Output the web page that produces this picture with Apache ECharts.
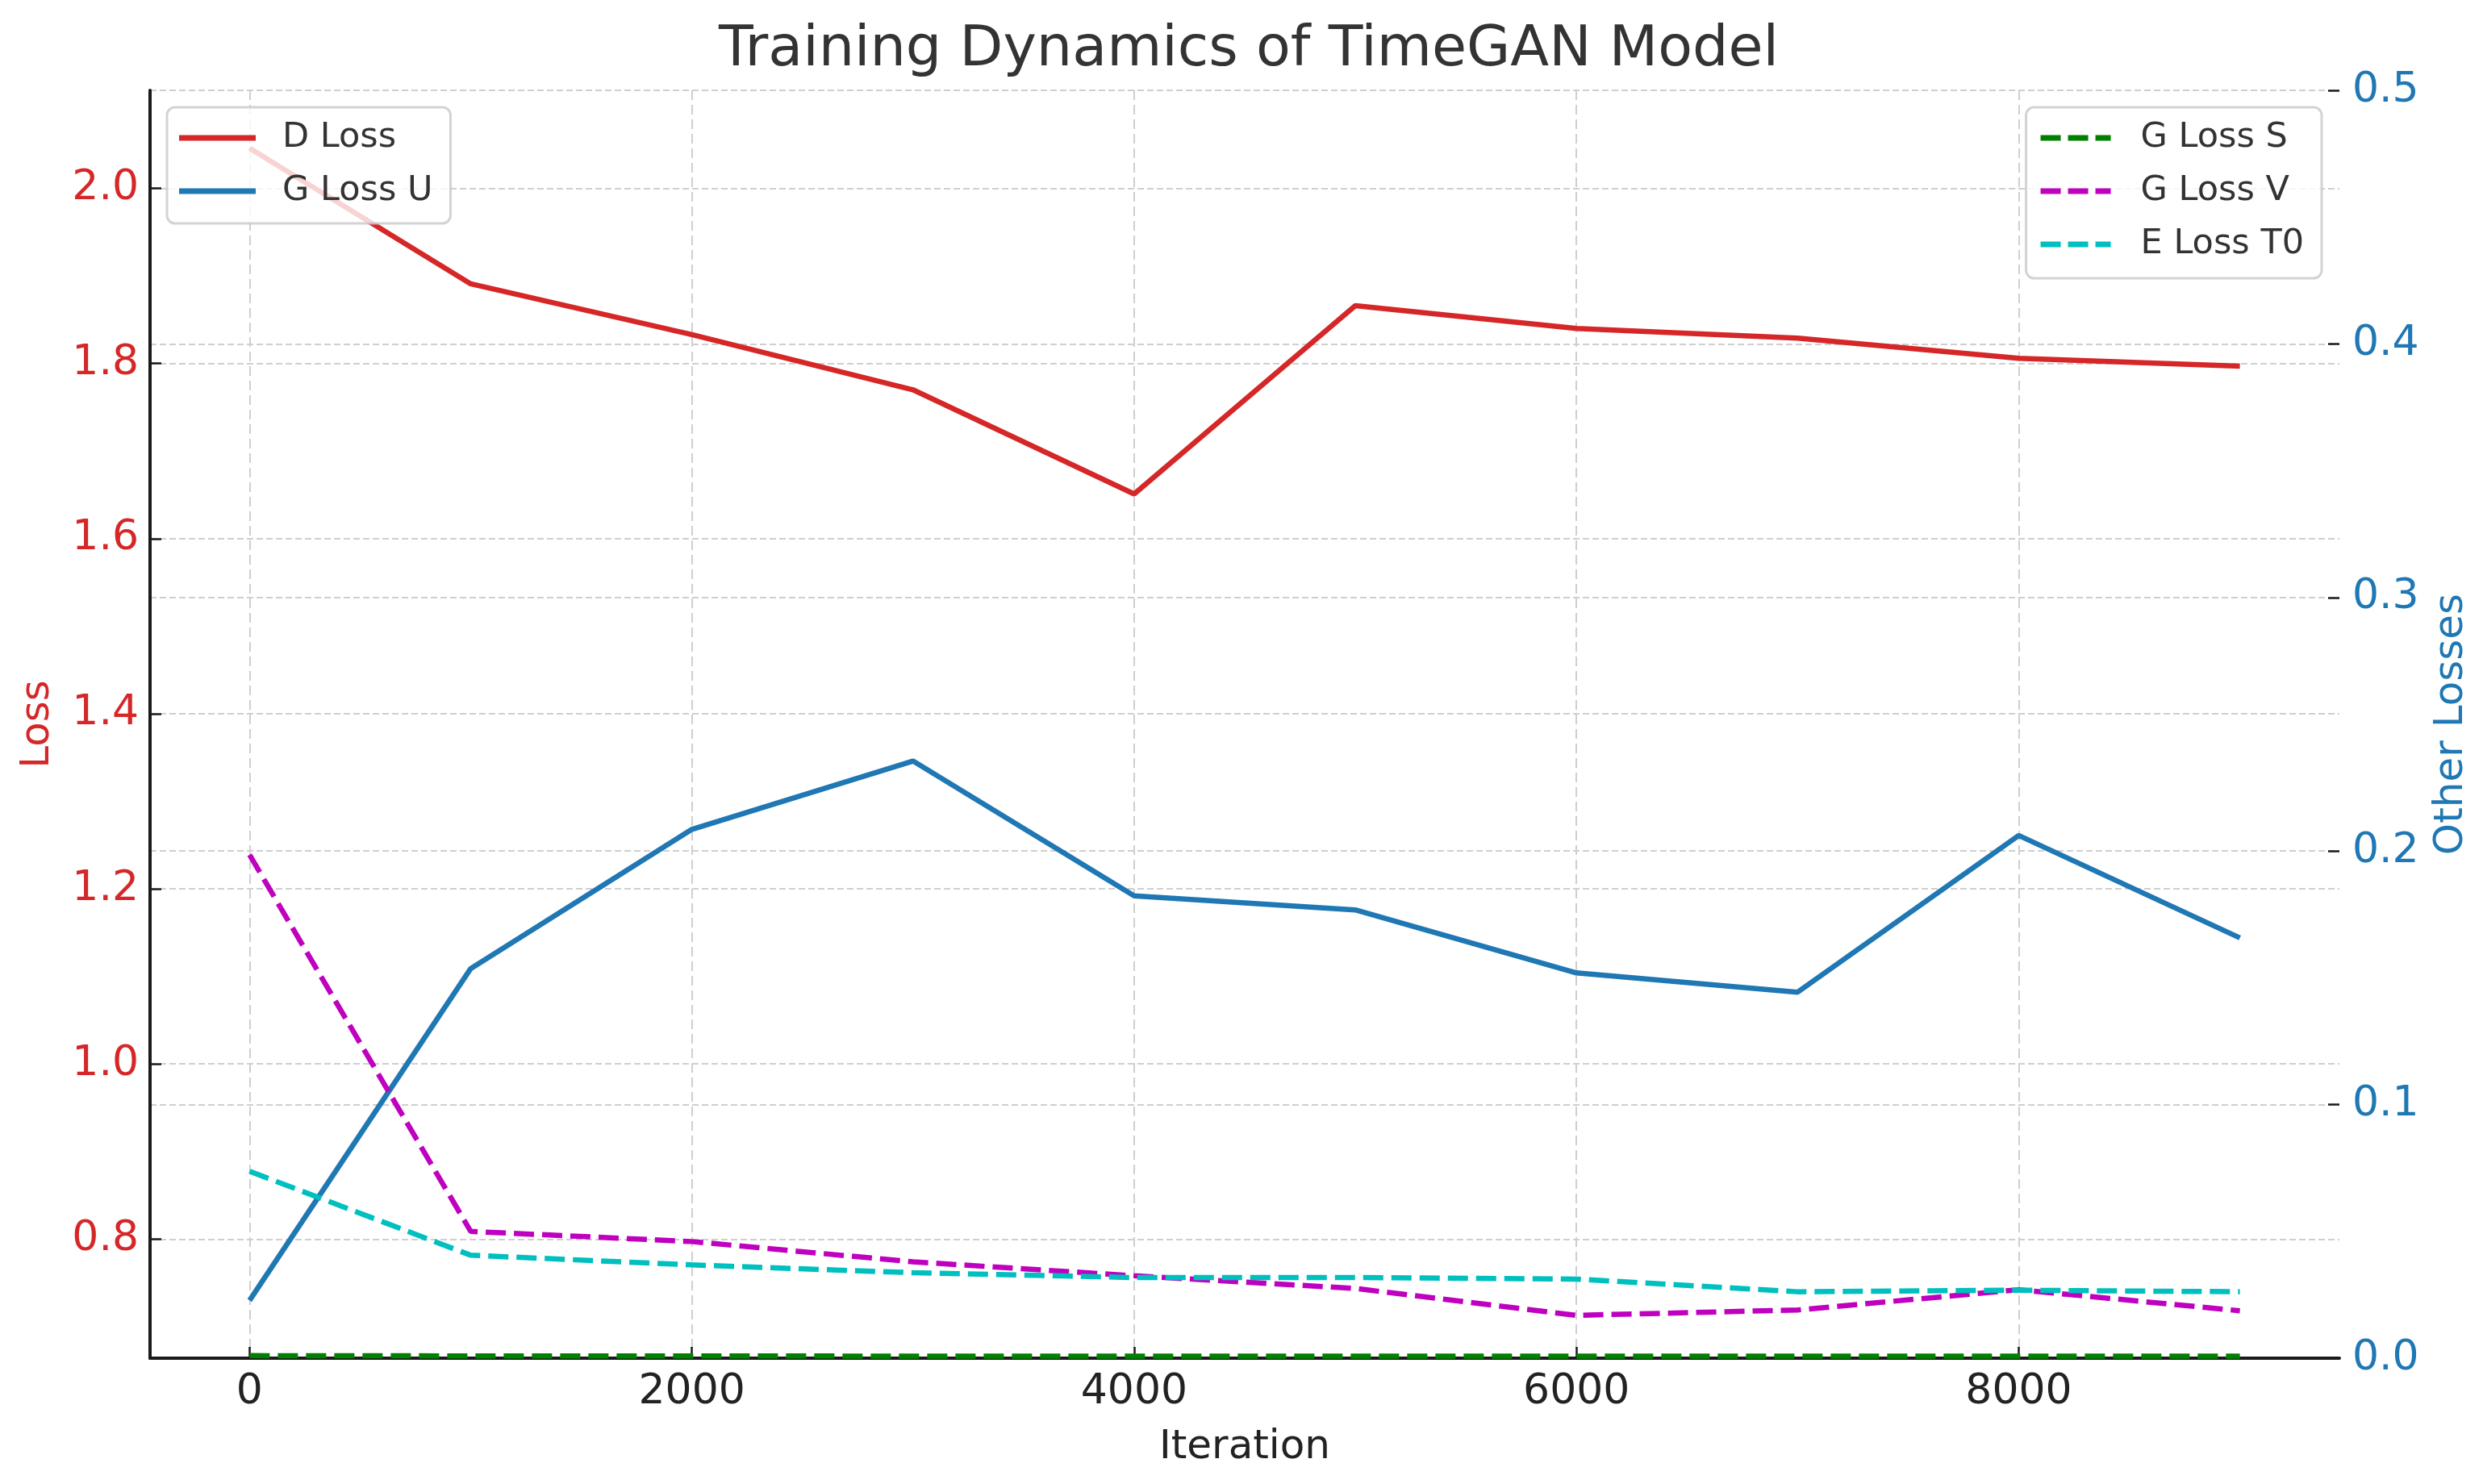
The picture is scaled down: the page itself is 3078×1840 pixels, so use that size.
<!DOCTYPE html>
<html>
<head>
<meta charset="utf-8">
<script src="https://cdn.jsdelivr.net/npm/echarts@6/dist/echarts.min.js"></script>
<style>
  html, body { margin: 0; padding: 0; background: #ffffff; }
  #chart { width: 3078px; height: 1840px; }
</style>
</head>
<body>
<div id="chart"></div>
<script>
// ---- data ----
const iterations = [0, 1000, 2000, 3000, 4000, 5000, 6000, 7000, 8000, 9000];
const dLoss    = [2.046, 1.891, 1.833, 1.770, 1.651, 1.866, 1.840, 1.829, 1.806, 1.797];
const gLossU   = [0.730, 1.109, 1.268, 1.346, 1.192, 1.176, 1.104, 1.082, 1.261, 1.144];
const gLossS   = [0.0010, 0.0009, 0.0009, 0.0008, 0.0008, 0.0008, 0.0008, 0.0008, 0.0008, 0.0008];
const gLossV   = [0.1985, 0.0500, 0.0460, 0.0380, 0.0325, 0.0275, 0.0169, 0.0190, 0.0270, 0.0187];
const eLossT0  = [0.0737, 0.0406, 0.0368, 0.0337, 0.0318, 0.0318, 0.0312, 0.0262, 0.0268, 0.0262];
const xTicks     = [0, 2000, 4000, 6000, 8000];
const leftTicks  = [0.8, 1.0, 1.2, 1.4, 1.6, 1.8, 2.0];
const rightTicks = [0.0, 0.1, 0.2, 0.3, 0.4, 0.5];

const pairs = (ys) => iterations.map((x, i) => [x, ys[i]]);

const FONT = 'DejaVu Sans';
const RED = '#d62728', BLUE = '#1f77b4', GREEN = '#008000', MAG = '#bf00bf', CYAN = '#00bfbf';
const gridH = { show: true, lineStyle: { color: '#cfcfcf', width: 2, type: [8, 4] } };
const SOLID_ICON = 'path://M0,0h95v7h-95z';
const DASH_ICON = 'path://M0,0h25v7h-25zM34,0h25v7h-25zM68,0h19v7h-19z';
const LW = 6.5;

const chart = echarts.init(document.getElementById('chart'), null, { renderer: 'canvas' });
chart.setOption({
  animation: false,
  backgroundColor: '#ffffff',
  textStyle: { fontFamily: FONT },
  title: {
    text: 'Training Dynamics of TimeGAN Model',
    left: 1543, top: 23, textAlign: 'center',
    textStyle: { fontFamily: FONT, fontSize: 70, fontWeight: 'normal', color: '#333333' }
  },
  grid: { left: 186, right: 178, top: 112, bottom: 156, containLabel: false },
  legend: [
    {
      data: [{ name: 'D Loss', icon: SOLID_ICON }, { name: 'G Loss U', icon: SOLID_ICON }],
      orient: 'vertical', left: 207, top: 133,
      itemWidth: 95, itemHeight: 7, itemGap: 16,
      padding: [13, 22, 15, 15],
      backgroundColor: 'rgba(255,255,255,0.8)',
      borderColor: 'rgba(200,200,200,0.8)', borderWidth: 3, borderRadius: 10,
      selectedMode: false,
      textStyle: { fontFamily: FONT, fontSize: 43, color: '#333333', lineHeight: 50, padding: [0, 0, 0, 28] }
    },
    {
      data: [{ name: 'G Loss S', icon: DASH_ICON }, { name: 'G Loss V', icon: DASH_ICON }, { name: 'E Loss T0', icon: DASH_ICON }],
      orient: 'vertical', right: 200, top: 133,
      itemWidth: 87, itemHeight: 7, itemGap: 16,
      padding: [13, 22, 17, 18],
      backgroundColor: 'rgba(255,255,255,0.8)',
      borderColor: 'rgba(200,200,200,0.8)', borderWidth: 3, borderRadius: 10,
      selectedMode: false,
      textStyle: { fontFamily: FONT, fontSize: 43, color: '#333333', lineHeight: 50, padding: [0, 0, 0, 32] }
    }
  ],
  xAxis: {
    type: 'value', min: -450, max: 9450,
    name: 'Iteration', nameLocation: 'middle', nameGap: 86,
    nameTextStyle: { fontFamily: FONT, fontSize: 50, color: '#222222' },
    axisLine: { show: true, onZero: false, lineStyle: { color: '#1a1a1a', width: 4 } },
    axisTick: { show: true, inside: true, length: 14, customValues: xTicks, lineStyle: { color: '#1a1a1a', width: 2.5 } },
    axisLabel: { customValues: xTicks, margin: 16, fontFamily: FONT, fontSize: 52, color: '#222222', formatter: v => String(v) },
    splitLine: { show: true, lineStyle: { color: '#cfcfcf', width: 2, type: [12, 6] } }
  },
  yAxis: [
    {
      type: 'value', position: 'left', min: 0.664, max: 2.112,
      name: 'Loss', nameLocation: 'middle', nameRotate: 90, nameGap: 114,
      nameTextStyle: { fontFamily: FONT, fontSize: 50, color: RED },
      axisLine: { show: true, onZero: false, lineStyle: { color: '#1a1a1a', width: 4 } },
      axisTick: { show: true, inside: true, length: 14, customValues: leftTicks, lineStyle: { color: '#1a1a1a', width: 2.5 } },
      axisLabel: { customValues: leftTicks, margin: 14, fontFamily: FONT, fontSize: 52, color: RED, formatter: v => v.toFixed(1) },
      splitLine: gridH
    },
    {
      type: 'value', position: 'right', min: 0, max: 0.5, interval: 0.1,
      name: 'Other Losses', nameLocation: 'middle', nameRotate: 90, nameGap: 114,
      nameTextStyle: { fontFamily: FONT, fontSize: 50, color: BLUE },
      axisLine: { show: false, onZero: false },
      axisTick: { show: true, inside: true, length: 14, lineStyle: { color: '#1a1a1a', width: 2.5 } },
      axisLabel: { margin: 16, fontFamily: FONT, fontSize: 52, color: BLUE, formatter: v => v.toFixed(1) },
      splitLine: gridH
    }
  ],
  series: [
    { name: 'D Loss', type: 'line', yAxisIndex: 0, data: pairs(dLoss), symbol: 'none', showSymbol: false,
      lineStyle: { color: RED, width: LW }, itemStyle: { color: RED } },
    { name: 'G Loss U', type: 'line', yAxisIndex: 0, data: pairs(gLossU), symbol: 'none', showSymbol: false,
      lineStyle: { color: BLUE, width: LW }, itemStyle: { color: BLUE } },
    { name: 'G Loss S', type: 'line', yAxisIndex: 1, data: pairs(gLossS), symbol: 'none', showSymbol: false,
      lineStyle: { color: GREEN, width: LW, type: [25, 10] }, itemStyle: { color: GREEN } },
    { name: 'G Loss V', type: 'line', yAxisIndex: 1, data: pairs(gLossV), symbol: 'none', showSymbol: false,
      lineStyle: { color: MAG, width: LW, type: [25, 10] }, itemStyle: { color: MAG } },
    { name: 'E Loss T0', type: 'line', yAxisIndex: 1, data: pairs(eLossT0), symbol: 'none', showSymbol: false,
      lineStyle: { color: CYAN, width: LW, type: [25, 10] }, itemStyle: { color: CYAN } }
  ]
});
</script>
</body>
</html>
